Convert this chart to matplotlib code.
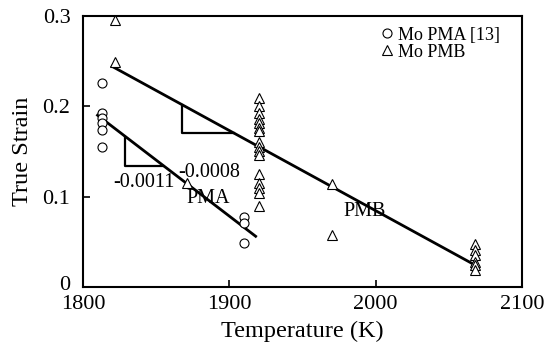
import matplotlib
matplotlib.use("Agg")
import matplotlib.pyplot as plt
from matplotlib.transforms import ScaledTranslation

plt.rcParams['font.family'] = ['Liberation Serif', 'DejaVu Serif']
plt.rcParams['mathtext.fontset'] = 'stix'

# Data
pma_T = [1813, 1813, 1813, 1813, 1813, 1813, 1910, 1910, 1910]
pma_strain = [0.226, 0.193, 0.187, 0.181, 0.174, 0.155, 0.077, 0.071, 0.049]

pmb_T = [1822, 1822, 1871, 1970, 1970] + [1920] * 16 + [2068] * 6
pmb_strain = [0.295, 0.249, 0.115, 0.114, 0.057,
              0.209, 0.200, 0.193, 0.186, 0.181, 0.176, 0.172, 0.160,
              0.155, 0.150, 0.146, 0.125, 0.115, 0.109, 0.104, 0.089,
              0.047, 0.041, 0.035, 0.028, 0.024, 0.019]

pma_fit_T = [1810, 1918]
pma_fit_strain = [0.190, 0.056]
pmb_fit_T = [1820, 2068]
pmb_fit_strain = [0.244, 0.024]

# slope triangles
pmb_tri = [(1868, 1868, 1903), (0.201, 0.170, 0.170)]
pma_tri = [(1829, 1829, 1855), (0.166, 0.134, 0.134)]

fig = plt.figure(figsize=(5.49, 3.52), dpi=100)
ax = fig.add_axes([0.151, 0.185, 0.800, 0.770])

ax.plot(pma_fit_T, pma_fit_strain, color='black', lw=2.0, zorder=2)
ax.plot(pmb_fit_T, pmb_fit_strain, color='black', lw=2.0, zorder=2)
ax.plot(pmb_tri[0], pmb_tri[1], color='black', lw=1.6)
ax.plot(pma_tri[0], pma_tri[1], color='black', lw=1.6)

ax.plot(pma_T, pma_strain, linestyle='none', marker='o', ms=6.5,
        mfc='white', mec='black', mew=0.8, label='Mo PMA [13]', zorder=3)
ax.plot(pmb_T, pmb_strain, linestyle='none', marker='^', ms=7,
        mfc='white', mec='black', mew=0.8, label='Mo PMB', zorder=3)

ax.text(1865, 0.127, '-0.0008', fontsize=14.5, va='center', ha='left')
ax.text(1820.5, 0.116, '-0.0011', fontsize=14.5, va='center', ha='left')
ax.text(1871, 0.098, 'PMA', fontsize=14.5, va='center', ha='left')
ax.text(1978, 0.083, 'PMB', fontsize=14.5, va='center', ha='left')

ax.set_xlim(1800, 2100)
ax.set_ylim(0, 0.3)
ax.set_xticks([1800, 1900, 2000, 2100])
ax.set_xticklabels(['1800', '1900', '2000', '2100'])
ax.set_yticks([0, 0.1, 0.2, 0.3])
ax.set_yticklabels(['0', '0.1', '0.2', '0.3'])
ax.tick_params(direction='in', length=5, width=1.2, labelsize=16)
ax.tick_params(axis='x', pad=6)
ax.tick_params(axis='y', pad=9)
for s in ax.spines.values():
    s.set_linewidth(1.5)

# nudge the "0" label up slightly so it doesn't collide with "1800"
lbl0 = ax.get_yticklabels()[0]
lbl0.set_transform(lbl0.get_transform() + ScaledTranslation(0, 3 / 72, fig.dpi_scale_trans))

ax.set_xlabel('Temperature (K)', fontsize=17.5, labelpad=5)
ax.set_ylabel('True Strain', fontsize=17.5, labelpad=7)

ax.legend(loc='upper right', frameon=False, fontsize=13, handletextpad=0.1,
          borderaxespad=0.2, labelspacing=0.0, handlelength=1.0,
          bbox_to_anchor=(0.975, 1.0))

fig.savefig('out.png', dpi=100)
